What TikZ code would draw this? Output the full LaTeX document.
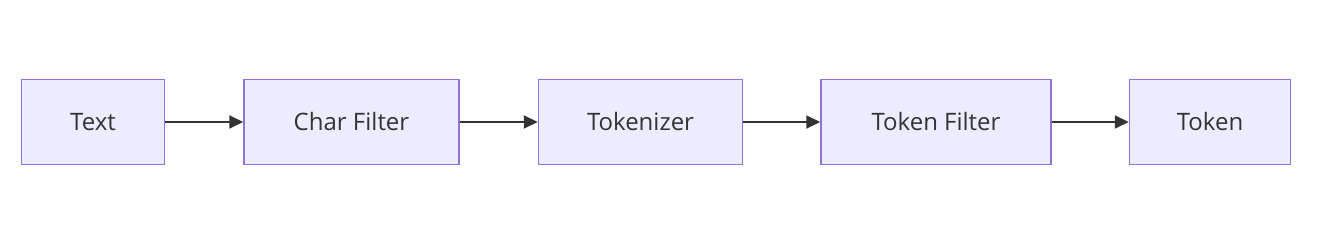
\documentclass[tikz,border=0pt]{standalone}
\usepackage{fontspec}
\setmainfont{Open Sans}
\usetikzlibrary{arrows.meta}
\definecolor{nodefill}{HTML}{ECECFF}
\definecolor{nodestroke}{HTML}{9370DB}
\definecolor{edgecol}{HTML}{333333}
\begin{document}
\begin{tikzpicture}[x=1pt,y=1pt,
  box/.style={draw=nodestroke,fill=nodefill,line width=1.5pt,inner sep=0pt,
    minimum height=85pt,font=\fontsize{24}{29}\selectfont,text=edgecol},
  conn/.style={draw=edgecol,line width=2pt,-{Triangle[length=14pt,width=13pt]}}]
\useasboundingbox (0,0) rectangle (1318,248);
\node[box,minimum width=143pt] (text) at (93,126) {Text};
\node[box,minimum width=215pt] (char) at (351.5,126) {Char Filter};
\node[box,minimum width=204pt] (tok) at (640.5,126) {Tokenizer};
\node[box,minimum width=230pt] (tf) at (936,126) {Token Filter};
\node[box,minimum width=161pt] (token) at (1210,126) {Token};
\draw[conn] (text) -- (char);
\draw[conn] (char) -- (tok);
\draw[conn] (tok) -- (tf);
\draw[conn] (tf) -- (token);
\end{tikzpicture}
\end{document}
